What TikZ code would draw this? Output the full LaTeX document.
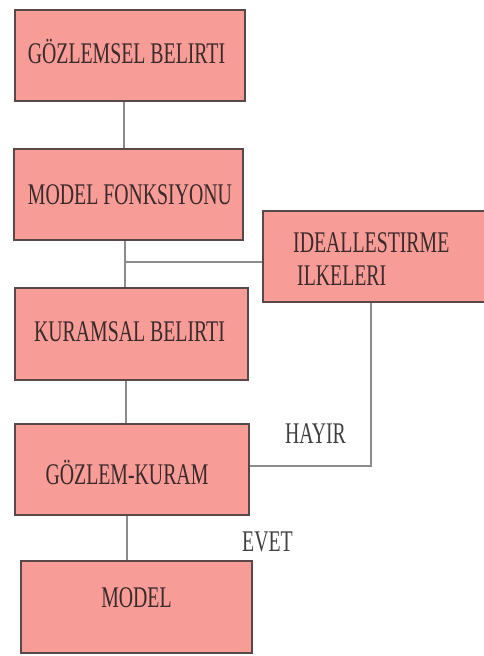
\documentclass[tikz,border=0pt]{standalone}
\usepackage{fontspec}
\newfontfamily\boxfont[FakeStretch=0.66]{Liberation Serif}
\definecolor{boxfill}{HTML}{F89C98}
\definecolor{boxline}{HTML}{5A4848}
\definecolor{conn}{HTML}{8C8C8C}
\definecolor{txt}{HTML}{3A2A2A}
\begin{document}
\begin{tikzpicture}[x=1pt,y=-1pt,
  stepbox/.style={draw=boxline,line width=1.3pt,fill=boxfill,rectangle,inner sep=0pt},
  lbl/.style={font=\boxfont\fontsize{30}{31}\selectfont,text=txt,inner sep=0pt,anchor=center},
  link/.style={draw=conn,line width=1.6pt}]
\useasboundingbox[fill=white] (0,0) rectangle (483,656);
% boxes
\node[stepbox,minimum width=230pt,minimum height=91pt] (b1) at (130,55.5) {};
\node[stepbox,minimum width=229pt,minimum height=91pt] (b2) at (128.5,194.5) {};
\node[stepbox,minimum width=222pt,minimum height=91pt] (b3) at (374,256.5) {};
\node[stepbox,minimum width=233pt,minimum height=92pt] (b4) at (131.5,334) {};
\node[stepbox,minimum width=234pt,minimum height=91pt] (b5) at (132,469.5) {};
\node[stepbox,minimum width=231pt,minimum height=92pt] (b6) at (136.5,607) {};
% texts
\node[lbl] (t1) at (126.5,51) {GÖZLEMSEL BELIRTI};
\node[lbl] (t2) at (130,195) {MODEL FONKSIYONU};
\node[lbl,anchor=west] (t3a) at (293,243) {IDEALLESTIRME};
\node[lbl,anchor=west] (t3b) at (297,276) {ILKELERI};
\node[lbl] (t4) at (129.5,332) {KURAMSAL BELIRTI};
\node[lbl] (t5) at (127,472) {GÖZLEM-KURAM};
\node[lbl] (t6) at (136.5,598) {MODEL};
\node[lbl,text=black!75] (hayir) at (315.5,434) {HAYIR};
\node[lbl,text=black!75] (evet) at (267.5,542) {EVET};
% connectors
\coordinate (c1) at (124,0);
\coordinate (j) at (125,262);
\coordinate (c3) at (126,0);
\coordinate (c4) at (127,0);
\coordinate (k) at (371,466);
\draw[link] (b1.south -| c1) -- (b2.north -| c1);
\draw[link] (b2.south -| j) -- (b4.north -| j);
\draw[link] (j) -- (b3.west |- j);
\draw[link] (b4.south -| c3) -- (b5.north -| c3);
\draw[link] (b5.south -| c4) -- (b6.north -| c4);
\draw[link] (b3.south -| k) -- (k) -- (b5.east |- k);
\end{tikzpicture}
\end{document}
